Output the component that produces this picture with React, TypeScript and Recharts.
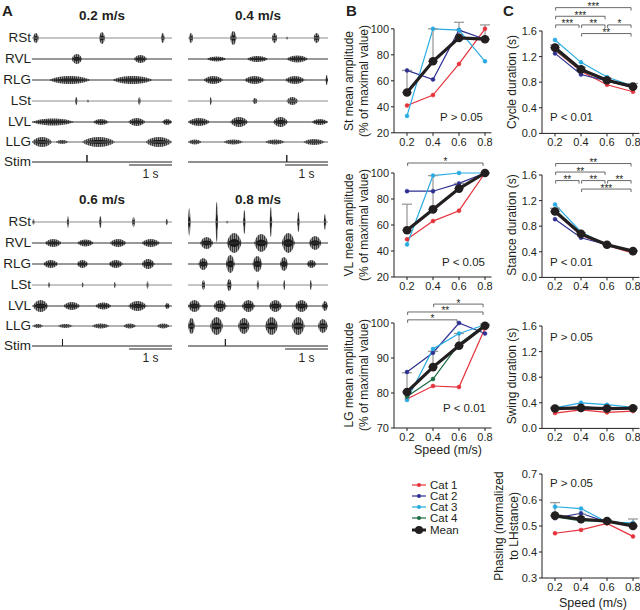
import {
  ComposedChart,
  ErrorBar,
  Line,
  LineChart,
  ReferenceArea,
  ReferenceLine,
  XAxis,
  YAxis,
} from 'recharts'

// ---- data -------------------------------------------------------------

const SPEEDS = [0.2, 0.4, 0.6, 0.8]

// B: EMG mean amplitude (% of maximal value)
const ST_CAT1 = [41, 49, 73, 100]
const ST_CAT2 = [68, 61, 99, 92]
const ST_CAT3 = [33, 100, 99, 75]
const ST_MEAN = [51, 75, 93, 92]
const ST_ERR = [17, 25, 12, 11]

const VL_CAT1 = [49, 63, 71, 100]
const VL_CAT2 = [86, 86, 92, 100]
const VL_CAT3 = [45, 98, 100, 100]
const VL_MEAN = [56, 72, 88, 100]
const VL_ERR = [20, 26, 4, 0]

const LG_CAT1 = [78.3, 82, 81.7, 98.5]
const LG_CAT2 = [86, 91.5, 100, 97]
const LG_CAT3 = [78, 92.6, 97, 99.5]
const LG_CAT4 = [79, 84, 94, 99.5]
const LG_MEAN = [80.3, 87.4, 93.5, 99.2]
const LG_ERR = [5.5, 4.5, 3.5, 0.5]

// C: step cycle parameters
const CYC_CAT1 = [1.3, 0.97, 0.76, 0.65]
const CYC_CAT2 = [1.25, 0.92, 0.82, 0.72]
const CYC_CAT3 = [1.46, 1.11, 0.88, 0.74]
const CYC_CAT4 = [1.31, 0.98, 0.82, 0.72]
const CYC_MEAN = [1.34, 1.0, 0.83, 0.73]
const CYC_ERR = [0.04, 0.03, 0.03, 0.05]

const STA_CAT1 = [1.02, 0.66, 0.5, 0.38]
const STA_CAT2 = [0.91, 0.62, 0.51, 0.41]
const STA_CAT3 = [1.14, 0.71, 0.5, 0.4]
const STA_CAT4 = [1.06, 0.68, 0.51, 0.41]
const STA_MEAN = [1.03, 0.68, 0.51, 0.41]
const STA_ERR = [0.05, 0.02, 0.01, 0.01]

const SWI_CAT1 = [0.24, 0.29, 0.25, 0.27]
const SWI_CAT2 = [0.3, 0.34, 0.31, 0.32]
const SWI_CAT3 = [0.32, 0.4, 0.37, 0.33]
const SWI_CAT4 = [0.31, 0.31, 0.3, 0.31]
const SWI_MEAN = [0.31, 0.32, 0.31, 0.315]
const SWI_ERR = [0.02, 0.02, 0.02, 0.02]

const PHA_CAT1 = [0.472, 0.485, 0.51, 0.46]
const PHA_CAT2 = [0.53, 0.549, 0.515, 0.505]
const PHA_CAT3 = [0.574, 0.567, 0.515, 0.512]
const PHA_CAT4 = [0.535, 0.52, 0.52, 0.505]
const PHA_MEAN = [0.54, 0.526, 0.519, 0.5]
const PHA_ERR = [0.05, 0.02, 0.005, 0.027]

type Bracket = { from: number; to: number; stars: string; level: number }

const VL_SIG: Bracket[] = [{ from: 0.2, to: 0.8, stars: '*', level: 0 }]
const LG_SIG: Bracket[] = [
  { from: 0.4, to: 0.8, stars: '*', level: 2 },
  { from: 0.2, to: 0.8, stars: '**', level: 1 },
  { from: 0.2, to: 0.6, stars: '*', level: 0 },
]
const CYC_SIG: Bracket[] = [
  { from: 0.2, to: 0.8, stars: '***', level: 3 },
  { from: 0.2, to: 0.6, stars: '***', level: 2 },
  { from: 0.2, to: 0.4, stars: '***', level: 1 },
  { from: 0.4, to: 0.6, stars: '**', level: 1 },
  { from: 0.6, to: 0.8, stars: '*', level: 1 },
  { from: 0.4, to: 0.8, stars: '**', level: 0 },
]
const STA_SIG: Bracket[] = [
  { from: 0.2, to: 0.8, stars: '**', level: 3 },
  { from: 0.2, to: 0.6, stars: '**', level: 2 },
  { from: 0.2, to: 0.4, stars: '**', level: 1 },
  { from: 0.4, to: 0.6, stars: '**', level: 1 },
  { from: 0.6, to: 0.8, stars: '**', level: 1 },
  { from: 0.4, to: 0.8, stars: '***', level: 0 },
]

// A: EMG bursts per trace, [start s, end s, half-amplitude]
type Burst = [number, number, number]
const MUSCLES = ['RSt', 'RVL', 'RLG', 'LSt', 'LVL', 'LLG']
const SPEED_TITLES = ['0.2 m/s', '0.4 m/s', '0.6 m/s', '0.8 m/s']

const S02: Burst[][] = [
  [[0.02, 0.16, 5], [1.56, 1.7, 6], [3.0, 3.09, 5]],
  [[0.92, 1.17, 5], [2.37, 2.68, 4]],
  [[0.4, 1.36, 4], [1.87, 2.81, 4]],
  [[1.0, 1.06, 4], [1.28, 1.32, 1.5], [2.47, 2.53, 4]],
  [[0.0, 0.98, 3.5], [1.42, 1.79, 3], [2.24, 2.64, 4], [3.03, 3.26, 3]],
  [[0.0, 0.47, 5], [0.55, 0.85, 2], [1.16, 1.94, 5], [2.64, 3.26, 5]],
]
const S04: Burst[][] = [
  [[0.02, 0.12, 5], [0.98, 1.13, 7], [1.95, 2.08, 5], [2.29, 2.33, 1.5], [2.92, 3.07, 5]],
  [[0.43, 0.9, 2.5], [1.37, 1.87, 3], [2.29, 2.8, 3.5]],
  [[0.36, 0.82, 4], [1.31, 1.79, 4], [2.26, 2.72, 4], [3.2, 3.26, 5]],
  [[0.51, 0.55, 4], [1.5, 1.62, 3], [2.29, 2.57, 4]],
  [[0.0, 0.51, 4], [0.98, 1.4, 5], [1.98, 2.33, 5], [2.88, 3.26, 3]],
  [[0.0, 0.32, 2.5], [0.82, 1.29, 2.5], [1.79, 2.26, 2.5], [2.68, 3.19, 3]],
]
const S06: Burst[][] = [
  [[0.01, 0.06, 3], [0.81, 0.86, 6], [1.56, 1.62, 6], [2.33, 2.4, 5], [3.11, 3.17, 3]],
  [[0.3, 0.69, 4], [1.05, 1.44, 3.5], [1.81, 2.2, 4], [2.55, 2.98, 4]],
  [[0.26, 0.61, 4], [1.04, 1.31, 4], [1.78, 2.12, 4], [2.55, 2.86, 5]],
  [[0.38, 0.42, 3], [1.16, 1.2, 2.5], [1.91, 1.95, 3], [2.67, 2.71, 4]],
  [[0.02, 0.38, 6], [0.73, 1.12, 4], [1.47, 1.85, 3.5], [2.24, 2.67, 5], [3.09, 3.21, 3]],
  [[0.02, 0.26, 2], [0.6, 0.95, 2], [1.39, 1.81, 2.5], [2.12, 2.43, 2.5], [2.9, 3.21, 2.5]],
]
const S08: Burst[][] = [
  [[0.0, 0.06, 14], [0.64, 0.7, 20], [0.9, 0.93, 1.5], [1.28, 1.34, 12], [1.9, 1.96, 15], [2.54, 2.6, 10], [3.16, 3.22, 8]],
  [[0.28, 0.59, 6], [0.9, 1.25, 10], [1.54, 1.87, 9], [2.18, 2.49, 10], [2.81, 3.11, 7]],
  [[0.24, 0.47, 6], [0.88, 1.09, 9], [1.5, 1.73, 8], [2.14, 2.33, 7], [2.76, 2.99, 4]],
  [[0.32, 0.4, 5], [0.9, 1.02, 6], [1.6, 1.65, 5], [2.22, 2.26, 5], [2.84, 2.88, 5]],
  [[0.0, 0.3, 6], [0.59, 0.9, 6], [1.25, 1.56, 6], [1.88, 2.19, 6], [2.49, 2.8, 6], [3.12, 3.26, 5]],
  [[0.0, 0.16, 8], [0.51, 0.82, 9], [1.16, 1.44, 8], [1.79, 2.1, 9], [2.41, 2.72, 9], [3.02, 3.26, 7]],
]
const STIM_TIMES = [1.28, 2.3, 0.71, 0.87]
const STIM_PULSE = 7
const T_END = 3.26
const SCALE_BAR_S = 1

// ---- styling ------------------------------------------------------------

const FONT = '"Liberation Sans", Arial, Helvetica, sans-serif'
const INK = '#231f20'
const CAT_COLORS = ['#e5323b', '#2e3192', '#29abe2', '#1d6b43']
const CAT_NAMES = ['Cat 1', 'Cat 2', 'Cat 3', 'Cat 4']
const TICK = { fontSize: 11, fill: INK, fontFamily: FONT }

const X_MIN = 0.1
const X_MAX = 0.85
const X_PPU = 130
const YW = 36
const XH = 22
const MT = 44
const MR = 6

// ---- panel A pieces -------------------------------------------------------

function lens(x: number, cy: number, w: number, r: number) {
  const c = (r * 4) / 3
  return `M${x},${cy}C${x + w * 0.25},${cy - c} ${x + w * 0.75},${cy - c} ${x + w},${cy}C${x + w * 0.75},${cy + c} ${x + w * 0.25},${cy + c} ${x},${cy}Z`
}

// burst envelope: hairy grey fringe with a dense black core
function Spindle(p: any) {
  let { x, width: w } = p
  if (w < 2) {
    x -= (2 - w) / 2
    w = 2
  }
  const cy = p.y + p.height / 2
  const r = p.height / 2
  return (
    <g>
      <path d={lens(x, cy, w, r)} fill="url(#emgHatch)" />
      <path d={lens(x + w * 0.08, cy, w * 0.84, r * 0.4)} fill="#1a1a1a" />
    </g>
  )
}

function HatchDefs() {
  return (
    <defs>
      <pattern id="emgHatch" width={2} height={8} patternUnits="userSpaceOnUse">
        <rect x={0} y={0} width={1} height={8} fill="#3c3c3c" />
        <rect x={1} y={0} width={1} height={8} fill="#8f8f8f" />
      </pattern>
    </defs>
  )
}

// baseline rows: the trace sits at 0 over the whole recording window
function baseline(bursts: Burst[]) {
  return [0, ...bursts.flatMap((b) => [b[0], b[1]]), T_END].map((t) => ({ t, v: 0 }))
}

function Trace({ left, y, bursts, base }: { left: number; y: number; bursts: Burst[]; base: string }) {
  return (
    <div style={{ position: 'absolute', left, top: y - 22.5 }}>
      <ComposedChart width={140} height={44} data={baseline(bursts)} margin={{ top: 2, right: 0, bottom: 2, left: 0 }}>
        <HatchDefs />
        <XAxis type="number" dataKey="t" domain={[0, T_END]} hide />
        <YAxis type="number" domain={[-20, 20]} hide />
        <Line dataKey="v" stroke={base} strokeWidth={1} dot={false} activeDot={false} isAnimationActive={false} />
        {bursts.map(([t0, t1, a], i) => (
          <ReferenceArea key={i} x1={t0} x2={t1} y1={-a} y2={a} ifOverflow="visible" shape={Spindle} />
        ))}
      </ComposedChart>
    </div>
  )
}

function StimTrace({ left, y, stim }: { left: number; y: number; stim: number }) {
  const rows = [
    { t: 0, v: 0 },
    { t: stim, v: 0 },
    { t: stim, v: STIM_PULSE },
    { t: stim, v: 0 },
    { t: T_END, v: 0 },
  ]
  return (
    <div style={{ position: 'absolute', left, top: y - 22.5 }}>
      <ComposedChart width={140} height={44} data={rows} margin={{ top: 2, right: 0, bottom: 2, left: 0 }}>
        <XAxis type="number" dataKey="t" domain={[0, T_END]} hide />
        <YAxis type="number" domain={[-20, 20]} hide />
        <Line dataKey="v" stroke={INK} strokeWidth={1} dot={false} activeDot={false} isAnimationActive={false} />
        <ReferenceLine
          segment={[{ x: T_END - SCALE_BAR_S, y: -3 }, { x: T_END, y: -3 }]}
          stroke={INK}
          strokeWidth={1}
          ifOverflow="visible"
        />
      </ComposedChart>
    </div>
  )
}

const TOP_ROWS = [38, 59, 80, 101, 122, 142, 162]
const BASE_COLORS = ['#8c8c8c', '#333', '#333', '#8c8c8c', '#333', '#666']

function EmgBlock({ left, top, title, traces, stim, labels }: {
  left: number; top: number; title: string; traces: Burst[][]; stim: number; labels: boolean
}) {
  const rows = TOP_ROWS.map((r) => r + top)
  return (
    <>
      <div style={{ position: 'absolute', left: left, width: 140, top: rows[0] - 30, textAlign: 'center', fontWeight: 'bold', fontSize: 13.5 }}>
        {title}
      </div>
      {labels &&
        [...MUSCLES, 'Stim'].map((m, i) => (
          <div key={m} style={{ position: 'absolute', left: 0, width: 31, top: rows[i] - 8, textAlign: 'right', fontSize: 13.5, lineHeight: '16px' }}>
            {m}
          </div>
        ))}
      {traces.map((b, i) => (
        <Trace key={i} left={left} y={rows[i]} bursts={b} base={BASE_COLORS[i]} />
      ))}
      <StimTrace left={left} y={rows[6]} stim={stim} />
      <div style={{ position: 'absolute', left: left + 97, width: 43, top: rows[6] + 5, textAlign: 'center', fontSize: 12 }}>1 s</div>
    </>
  )
}

// ---- panels B and C ---------------------------------------------------

function bracketShape(stars: string) {
  return (p: any) => (
    <g>
      <path d={`M${p.x1},${p.y1 + 3}V${p.y1}H${p.x2}V${p.y2 + 3}`} fill="none" stroke="#444" strokeWidth={0.8} />
      <text x={(p.x1 + p.x2) / 2} y={p.y1 + 2.5} textAnchor="middle" fontSize={10} fontFamily={FONT} fill={INK}>
        {stars}
      </text>
    </g>
  )
}

type PanelProps = {
  left: number
  bottom: number
  ppu: number
  yMin: number
  yMax: number
  yTop: number
  ticks: number[]
  digits: number
  cats: (number[] | null)[]
  mean: number[]
  err: number[]
  sig?: Bracket[]
  sigBase?: number
  sigStep?: number
}

function StatPanel(p: PanelProps) {
  const plotW = (X_MAX - X_MIN) * X_PPU
  const plotH = (p.yTop - p.yMin) * p.ppu
  const data = SPEEDS.map((s, i) => {
    const row: Record<string, unknown> = { speed: s, mean: p.mean[i], err: [0, p.err[i]] }
    p.cats.forEach((c, k) => {
      if (c) row['c' + k] = c[i]
    })
    return row
  })
  return (
    <div style={{ position: 'absolute', left: p.left - YW, top: p.bottom - plotH - MT }}>
      <LineChart width={YW + plotW + MR} height={MT + plotH + XH} data={data} margin={{ top: MT, right: MR, bottom: 0, left: 0 }}>
        <XAxis
          dataKey="speed"
          type="number"
          domain={[X_MIN, X_MAX]}
          ticks={SPEEDS}
          tickFormatter={(v: number) => v.toFixed(1)}
          height={XH}
          tickSize={3}
          stroke={INK}
          tick={TICK}
          interval={0}
        />
        <YAxis
          type="number"
          domain={[p.yMin, p.yTop]}
          ticks={p.ticks}
          tickFormatter={(v: number) => v.toFixed(p.digits)}
          width={YW}
          tickSize={3}
          axisLine={false}
          stroke={INK}
          tick={TICK}
          interval={0}
        />
        <ReferenceLine segment={[{ x: X_MIN, y: p.yMin }, { x: X_MIN, y: p.yMax }]} stroke={INK} ifOverflow="visible" />
        {(p.sig ?? []).map((b, i) => {
          const y = (p.sigBase ?? 0) + b.level * (p.sigStep ?? 0)
          return (
            <ReferenceLine
              key={i}
              segment={[{ x: b.from + 0.005, y }, { x: b.to - 0.015, y }]}
              ifOverflow="visible"
              shape={bracketShape(b.stars)}
            />
          )
        })}
        {p.cats.map((c, k) =>
          c ? (
            <Line
              key={k}
              dataKey={'c' + k}
              type="linear"
              stroke={CAT_COLORS[k]}
              strokeWidth={1.2}
              dot={{ r: 2, fill: CAT_COLORS[k], stroke: CAT_COLORS[k], strokeWidth: 0.5 }}
              activeDot={false}
              isAnimationActive={false}
            />
          ) : null,
        )}
        <Line
          dataKey="mean"
          type="linear"
          stroke={INK}
          strokeWidth={3.2}
          dot={{ r: 4.3, fill: INK, stroke: INK, strokeWidth: 0 }}
          activeDot={false}
          isAnimationActive={false}
        >
          <ErrorBar dataKey="err" width={5} stroke="#9b9b9b" strokeWidth={1.3} direction="y" />
        </Line>
      </LineChart>
    </div>
  )
}

function VLabel({ x, y, lines }: { x: number; y: number; lines: string[] }) {
  return (
    <div
      style={{
        position: 'absolute',
        left: x,
        top: y,
        transform: 'translate(-50%, -50%) rotate(-90deg)',
        whiteSpace: 'nowrap',
        textAlign: 'center',
        fontSize: 12,
        lineHeight: '15px',
      }}
    >
      {lines.map((l) => (
        <div key={l}>{l}</div>
      ))}
    </div>
  )
}

function PText({ x, y, text }: { x: number; y: number; text: string }) {
  return <div style={{ position: 'absolute', left: x, top: y - 7, fontSize: 11.5, lineHeight: '14px', whiteSpace: 'nowrap' }}>{text}</div>
}

function Legend() {
  const rows = [485, 496, 507, 518, 530]
  const items = [...CAT_NAMES.map((n, i) => ({ n, c: CAT_COLORS[i], mean: false })), { n: 'Mean', c: INK, mean: true }]
  return (
    <>
      {items.map((it, i) => (
        <div key={it.n} style={{ position: 'absolute', left: 411, top: rows[i] - 7, height: 14, display: 'flex', alignItems: 'center', fontSize: 11.5 }}>
          <svg width={16} height={10} style={{ marginRight: 3 }}>
            <line x1={1} y1={5} x2={15} y2={5} stroke={it.c} strokeWidth={it.mean ? 3 : 1.2} />
            <circle cx={8} cy={5} r={it.mean ? 4 : 2} fill={it.c} />
          </svg>
          {it.n}
        </div>
      ))}
    </>
  )
}

export default function App() {
  const B_LEFT = 394
  const C_LEFT = 542
  const cTicks = [0, 0.4, 0.8, 1.2, 1.6]
  return (
    <div
      style={{
        position: 'absolute',
        left: 0,
        top: 0,
        width: 640,
        height: 610,
        overflow: 'hidden',
        background: '#fff',
        fontFamily: FONT,
        color: INK,
      }}
    >
      {/* panel letters */}
      <div style={{ position: 'absolute', left: 2, top: 2, fontWeight: 'bold', fontSize: 15 }}>A</div>
      <div style={{ position: 'absolute', left: 346, top: 2, fontWeight: 'bold', fontSize: 15 }}>B</div>
      <div style={{ position: 'absolute', left: 503, top: 2, fontWeight: 'bold', fontSize: 15 }}>C</div>

      {/* A: raw EMG at four speeds */}
      <EmgBlock left={32} top={0} title={SPEED_TITLES[0]} traces={S02} stim={STIM_TIMES[0]} labels />
      <EmgBlock left={188} top={0} title={SPEED_TITLES[1]} traces={S04} stim={STIM_TIMES[1]} labels={false} />
      <EmgBlock left={32} top={184} title={SPEED_TITLES[2]} traces={S06} stim={STIM_TIMES[2]} labels />
      <EmgBlock left={188} top={184} title={SPEED_TITLES[3]} traces={S08} stim={STIM_TIMES[3]} labels={false} />

      {/* B: mean amplitude */}
      <StatPanel left={B_LEFT} bottom={133} ppu={1.3} yMin={20} yMax={100} yTop={106} ticks={[20, 40, 60, 80, 100]} digits={0}
        cats={[ST_CAT1, ST_CAT2, ST_CAT3, null]} mean={ST_MEAN} err={ST_ERR} />
      <StatPanel left={B_LEFT} bottom={277} ppu={1.3} yMin={20} yMax={100} yTop={100} ticks={[20, 40, 60, 80, 100]} digits={0}
        cats={[VL_CAT1, VL_CAT2, VL_CAT3, null]} mean={VL_MEAN} err={VL_ERR} sig={VL_SIG} sigBase={107.7} sigStep={0} />
      <StatPanel left={B_LEFT} bottom={428} ppu={3.5} yMin={70} yMax={100} yTop={100} ticks={[70, 80, 90, 100]} digits={0}
        cats={[LG_CAT1, LG_CAT2, LG_CAT3, LG_CAT4]} mean={LG_MEAN} err={LG_ERR} sig={LG_SIG} sigBase={100.9} sigStep={2.25} />

      <VLabel x={357} y={81} lines={['St mean amplitude', '(% of maximal value)']} />
      <VLabel x={357} y={225} lines={['VL mean amplitude', '(% of maximal value)']} />
      <VLabel x={357} y={375} lines={['LG mean amplitude', '(% of maximal value)']} />
      <PText x={440} y={117} text="P > 0.05" />
      <PText x={442} y={262} text="P < 0.05" />
      <PText x={443} y={408} text="P < 0.01" />
      <div style={{ position: 'absolute', left: 398, width: 100, top: 443, textAlign: 'center', fontSize: 12.5 }}>Speed (m/s)</div>
      <Legend />

      {/* C: step cycle */}
      <StatPanel left={C_LEFT} bottom={133} ppu={64} yMin={0} yMax={1.6} yTop={1.6} ticks={cTicks} digits={1}
        cats={[CYC_CAT1, CYC_CAT2, CYC_CAT3, CYC_CAT4]} mean={CYC_MEAN} err={CYC_ERR} sig={CYC_SIG} sigBase={1.56} sigStep={0.135} />
      <StatPanel left={C_LEFT} bottom={277} ppu={64} yMin={0} yMax={1.6} yTop={1.6} ticks={cTicks} digits={1}
        cats={[STA_CAT1, STA_CAT2, STA_CAT3, STA_CAT4]} mean={STA_MEAN} err={STA_ERR} sig={STA_SIG} sigBase={1.38} sigStep={0.133} />
      <StatPanel left={C_LEFT} bottom={428} ppu={64} yMin={0} yMax={1.6} yTop={1.6} ticks={cTicks} digits={1}
        cats={[SWI_CAT1, SWI_CAT2, SWI_CAT3, SWI_CAT4]} mean={SWI_MEAN} err={SWI_ERR} />
      <StatPanel left={C_LEFT} bottom={578} ppu={260} yMin={0.3} yMax={0.7} yTop={0.7} ticks={[0.3, 0.4, 0.5, 0.6, 0.7]} digits={1}
        cats={[PHA_CAT1, PHA_CAT2, PHA_CAT3, PHA_CAT4]} mean={PHA_MEAN} err={PHA_ERR} />

      <VLabel x={512} y={82} lines={['Cycle duration (s)']} />
      <VLabel x={512} y={225} lines={['Stance duration (s)']} />
      <VLabel x={512} y={376} lines={['Swing duration (s)']} />
      <VLabel x={507} y={526} lines={['Phasing (normalized', 'to LHstance)']} />
      <PText x={550} y={117} text="P < 0.01" />
      <PText x={550} y={262} text="P < 0.01" />
      <PText x={550} y={337} text="P > 0.05" />
      <PText x={550} y={483} text="P > 0.05" />
      <div style={{ position: 'absolute', left: 543, width: 100, top: 596, textAlign: 'center', fontSize: 12.5 }}>Speed (m/s)</div>
    </div>
  )
}
